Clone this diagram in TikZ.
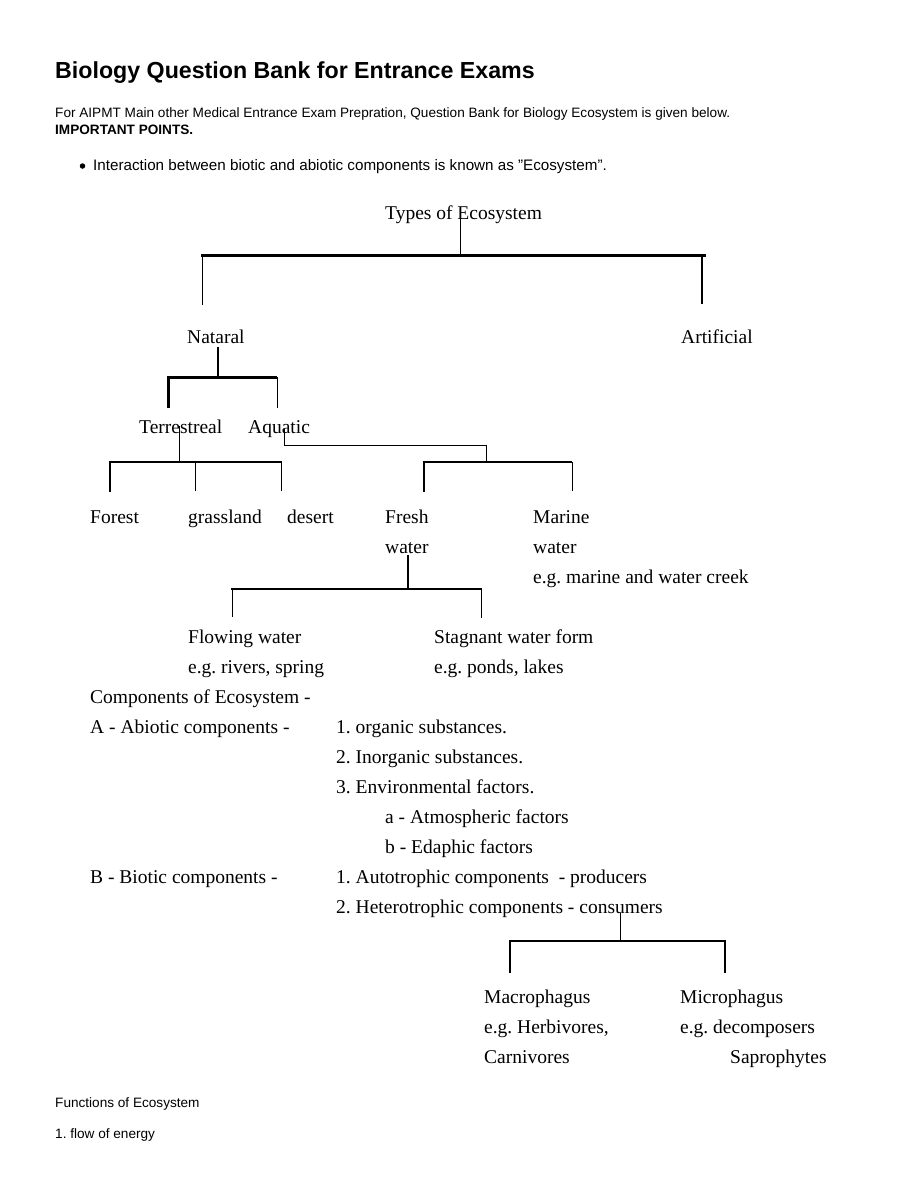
\documentclass[tikz,border=0pt]{standalone}
\usepackage{fontspec}
\setmainfont{Liberation Serif}
\setsansfont{Liberation Sans}
\frenchspacing

\begin{document}
\begin{tikzpicture}[x=1pt,y=-1pt]
\tikzset{Label/.style = 
		{anchor = base west,
		inner sep = 0pt,
		font = \fontsize{19.5}{23}\selectfont},
	Page/.style = 
		{anchor = base west,
		inner sep = 0pt,
		font = \sffamily\fontsize{13.6}{16}\selectfont},
	Thin/.style = {line width = 1pt},
	Mid/.style = {line width = 2pt},
	Thick/.style = {line width = 3pt}}
	\useasboundingbox (0,0) rectangle (900,1200);

	% page text
	\node[Page, font = \sffamily\bfseries\fontsize{23.2}{27}\selectfont] (Title) at (55,78) {Biology Question Bank for Entrance Exams};
	\node[Page] (Intro) at (55,117) {For AIPMT Main other Medical Entrance Exam Prepration, Question Bank for Biology Ecosystem is given below.};
	\node[Page, font = \sffamily\bfseries\fontsize{13.6}{16}\selectfont] (Points) at (55,134) {IMPORTANT POINTS.};
	\node[circle, fill, inner sep = 0pt, minimum size = 5.5pt] (Dot) at (82.5,166) {};
	\node[Page, font = \sffamily\fontsize{15.2}{18}\selectfont] (Point) at (93,170.5) {Interaction between biotic and abiotic components is known as "Ecosystem".};

	% types of ecosystem
	\node[Label] (Types) at (385,219) {Types of Ecosystem};
	\node[Label] (Natural) at (187,343) {Nataral};
	\node[Label] (Artificial) at (681,343) {Artificial};
	\node[Label] (Terrestreal) at (139,433) {Terrestreal};
	\node[Label] (Aquatic) at (248,433) {Aquatic};
	\node[Label] (Forest) at (90,523) {Forest};
	\node[Label] (Grassland) at (188,523) {grassland};
	\node[Label] (Desert) at (287,523) {desert};
	\node[Label] (Fresh) at (385,523) {Fresh};
	\node[Label] (FreshWater) at (385,553) {water};
	\node[Label] (Marine) at (533,523) {Marine};
	\node[Label] (MarineWater) at (533,553) {water};
	\node[Label] (MarineEg) at (533,583) {e.g. marine and water creek};
	\node[Label] (Flowing) at (188,643) {Flowing water};
	\node[Label] (FlowingEg) at (188,673) {e.g. rivers, spring};
	\node[Label] (Stagnant) at (434,643) {Stagnant water form};
	\node[Label] (StagnantEg) at (434,673) {e.g. ponds, lakes};

	% components
	\node[Label] (Components) at (90,703) {Components of Ecosystem -};
	\node[Label] (Abiotic) at (90,733) {A - Abiotic components -};
	\node[Label] (Organic) at (336,733) {1. organic substances.};
	\node[Label] (Inorganic) at (336,763) {2. Inorganic substances.};
	\node[Label] (Factors) at (336,793) {3. Environmental factors.};
	\node[Label] (Atmospheric) at (385,823) {a - Atmospheric factors};
	\node[Label] (Edaphic) at (385,853) {b - Edaphic factors};
	\node[Label] (Biotic) at (90,883) {B - Biotic components -};
	\node[Label] (Producers) at (336,883) {1. Autotrophic components\ \ - producers};
	\node[Label] (Consumers) at (336,913) {2. Heterotrophic components - consumers};
	\node[Label] (Macro) at (484,1003) {Macrophagus};
	\node[Label] (MacroEg) at (484,1033) {e.g. Herbivores,};
	\node[Label] (MacroEgB) at (484,1063) {Carnivores};
	\node[Label] (Micro) at (680,1003) {Microphagus};
	\node[Label] (MicroEg) at (680,1033) {e.g. decomposers};
	\node[Label] (MicroEgB) at (730,1063) {Saprophytes};

	\node[Page] (Functions) at (55,1107) {Functions of Ecosystem};
	\node[Page] (Flow) at (55,1138) {1. flow of energy};

	% junctions and line ends
	\coordinate (TypesJ) at (460,255);
	\coordinate (TypesL) at (201,255);
	\coordinate (TypesR) at (706,255);
	\coordinate (NaturalEnd) at (202,305);
	\coordinate (ArtificialEnd) at (702,304);
	\coordinate (NaturalJ) at (218,377);
	\coordinate (NaturalL) at (167,377);
	\coordinate (NaturalR) at (277,377);
	\coordinate (TerrestrealEnd) at (168,408);
	\coordinate (AquaticEnd) at (277,408);
	\coordinate (TerrestrealJ) at (179,462);
	\coordinate (LandL) at (109,462);
	\coordinate (LandR) at (282,462);
	\coordinate (ForestEnd) at (110,492);
	\coordinate (GrasslandEnd) at (195,491);
	\coordinate (DesertEnd) at (281,491);
	\coordinate (AquaticJ) at (284,445);
	\coordinate (AquaticK) at (486,445);
	\coordinate (WaterJ) at (486,462);
	\coordinate (WaterL) at (423,462);
	\coordinate (WaterR) at (572,462);
	\coordinate (FreshEnd) at (424,492);
	\coordinate (MarineEnd) at (572,491);
	\coordinate (FreshJ) at (408,589);
	\coordinate (FreshL) at (231,589);
	\coordinate (FreshR) at (482,589);
	\coordinate (FlowingEnd) at (232,617);
	\coordinate (StagnantEnd) at (481,618);
	\coordinate (ConsumersJ) at (620,941);
	\coordinate (ConsumersL) at (509,941);
	\coordinate (ConsumersR) at (726,941);
	\coordinate (MacroEnd) at (510,973);
	\coordinate (MicroEnd) at (725,973);

	% connectors
	\draw[Thin] (TypesJ |- Types.center) -- (TypesJ);
	\draw[Thick] (TypesL) -- (TypesR);
	\draw[Thin] (NaturalEnd |- TypesJ) -- (NaturalEnd);
	\draw[Mid, line width = 2.5pt] (ArtificialEnd |- TypesJ) -- (ArtificialEnd);

	\draw[Mid] ([yshift=-4pt]Natural.south -| NaturalJ) -- (NaturalJ);
	\draw[Thick] (NaturalL) -- (NaturalR);
	\draw[Thick] (TerrestrealEnd |- NaturalJ) -- (TerrestrealEnd);
	\draw[Thin] (AquaticEnd |- NaturalJ) -- (AquaticEnd);

	\draw[Thin] (TerrestrealJ |- Terrestreal.center) -- (TerrestrealJ);
	\draw[Thin, line width = 1.3pt] (LandL) -- (LandR);
	\draw[Mid, line width = 2.5pt] (ForestEnd |- LandL) -- (ForestEnd);
	\draw[Thin] (GrasslandEnd |- LandL) -- (GrasslandEnd);
	\draw[Thin] (DesertEnd |- LandL) -- (DesertEnd);

	\draw[Thin] (AquaticJ |- Aquatic.center) -- (AquaticJ) -- (AquaticK) -- (WaterJ);
	\draw[Thin, line width = 1.3pt] (WaterL) -- (WaterR);
	\draw[Mid, line width = 2.5pt] (FreshEnd |- WaterL) -- (FreshEnd);
	\draw[Thin] (MarineEnd |- WaterL) -- (MarineEnd);

	\draw[Mid] ([yshift=-2pt]FreshWater.south -| FreshJ) -- (FreshJ);
	\draw[Thin, line width = 1.3pt] (FreshL) -- (FreshR);
	\draw[Thin] (FlowingEnd |- FreshL) -- (FlowingEnd);
	\draw[Thin] (StagnantEnd |- FreshL) -- (StagnantEnd);

	\draw[Thin] (ConsumersJ |- Consumers.base) -- (ConsumersJ);
	\draw[Mid, line width = 2.5pt] (ConsumersL) -- (ConsumersR);
	\draw[Thin, line width = 1.3pt] (MacroEnd |- ConsumersL) -- (MacroEnd);
	\draw[Thin, line width = 1.3pt] (MicroEnd |- ConsumersL) -- (MicroEnd);
\end{tikzpicture}
\end{document}
